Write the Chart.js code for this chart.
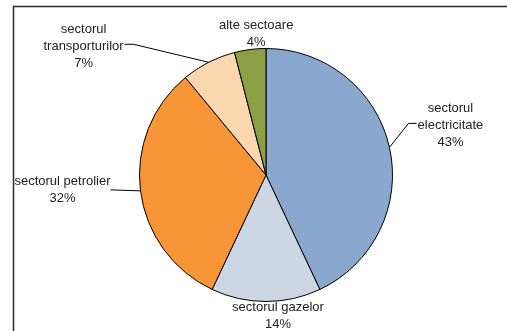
<!DOCTYPE html>
<html>
<head>
  <title>Structura pe sectoare</title>
  <script src="https://cdn.jsdelivr.net/npm/chart.js"></script>
  <style>
    body { margin: 0; background: #fff; }
  </style>
</head>
<body>
  <canvas id="myChart" width="507" height="331"></canvas>
  <script>
    // Shares per sector (%)
    const sectorNames = [
      ['sectorul', 'electricitate'],
      ['sectorul gazelor'],
      ['sectorul petrolier'],
      ['sectorul', 'transporturilor'],
      ['alte sectoare']
    ];
    const sectorShares = [43, 14, 32, 7, 4];
    const sectorColors = ['#8aa7cd', '#ccd6e3', '#f79537', '#fad7af', '#8b9f45'];

    // label placement relative to the outer edge of each slice (text centre + leader elbows)
    const labelLayout = [
      { dx: 61, dy: -39, leader: [[19, -24], [27, -24]] },
      { dx: 12, dy: 6, leader: null },
      { dx: -78, dy: -9, leader: [[-30, -1]] },
      { dx: -125, dy: -33, leader: [[-75, -18], [-84, -18]] },
      { dx: 6, dy: -24, leader: null }
    ];

    // frame around the chart (open on right and bottom)
    const framePlugin = {
      id: 'frame',
      beforeDraw(chart) {
        const ctx = chart.ctx;
        ctx.save();
        ctx.fillStyle = '#fff';
        ctx.fillRect(0, 0, chart.width, chart.height);
        ctx.strokeStyle = '#2a2a2a';
        ctx.lineWidth = 1.5;
        ctx.beginPath();
        ctx.moveTo(13.5, chart.height);
        ctx.lineTo(13.5, 6.5);
        ctx.lineTo(chart.width, 6.5);
        ctx.stroke();
        ctx.restore();
      }
    };

    const labelPlugin = {
      id: 'sliceLabels',
      afterDatasetsDraw(chart) {
        const ctx = chart.ctx;
        const meta = chart.getDatasetMeta(0);
        const total = sectorShares.reduce((a, b) => a + b, 0);
        ctx.save();
        ctx.font = '13px "Liberation Sans", Arial, sans-serif';
        ctx.textAlign = 'center';
        ctx.textBaseline = 'middle';
        meta.data.forEach((arc, i) => {
          const p = arc.getProps(['x', 'y', 'startAngle', 'endAngle', 'outerRadius'], true);
          const mid = (p.startAngle + p.endAngle) / 2;
          const ex = p.x + Math.cos(mid) * p.outerRadius;
          const ey = p.y + Math.sin(mid) * p.outerRadius;
          const lay = labelLayout[i];
          if (lay.leader) {
            ctx.strokeStyle = '#000';
            ctx.lineWidth = 1;
            ctx.beginPath();
            ctx.moveTo(ex, ey);
            lay.leader.forEach(pt => ctx.lineTo(ex + pt[0], ey + pt[1]));
            ctx.stroke();
          }
          const lines = sectorNames[i].concat([Math.round(sectorShares[i] / total * 100) + '%']);
          ctx.fillStyle = '#222';
          lines.forEach((t, k) => {
            ctx.fillText(t, ex + lay.dx, ey + lay.dy + k * 17);
          });
        });
        ctx.restore();
      }
    };

    const ctx = document.getElementById('myChart').getContext('2d');
    const myChart = new Chart(ctx, {
      type: 'pie',
      data: {
        labels: sectorNames.map(n => n.join(' ')),
        datasets: [{
          data: sectorShares,
          backgroundColor: sectorColors,
          borderColor: '#000',
          borderWidth: 1
        }]
      },
      options: {
        responsive: false,
        animation: false,
        layout: {
          padding: { left: 139, right: 114, top: 48, bottom: 29 }
        },
        plugins: {
          legend: { display: false },
          tooltip: { enabled: false }
        }
      },
      plugins: [framePlugin, labelPlugin]
    });
  </script>
</body>
</html>
